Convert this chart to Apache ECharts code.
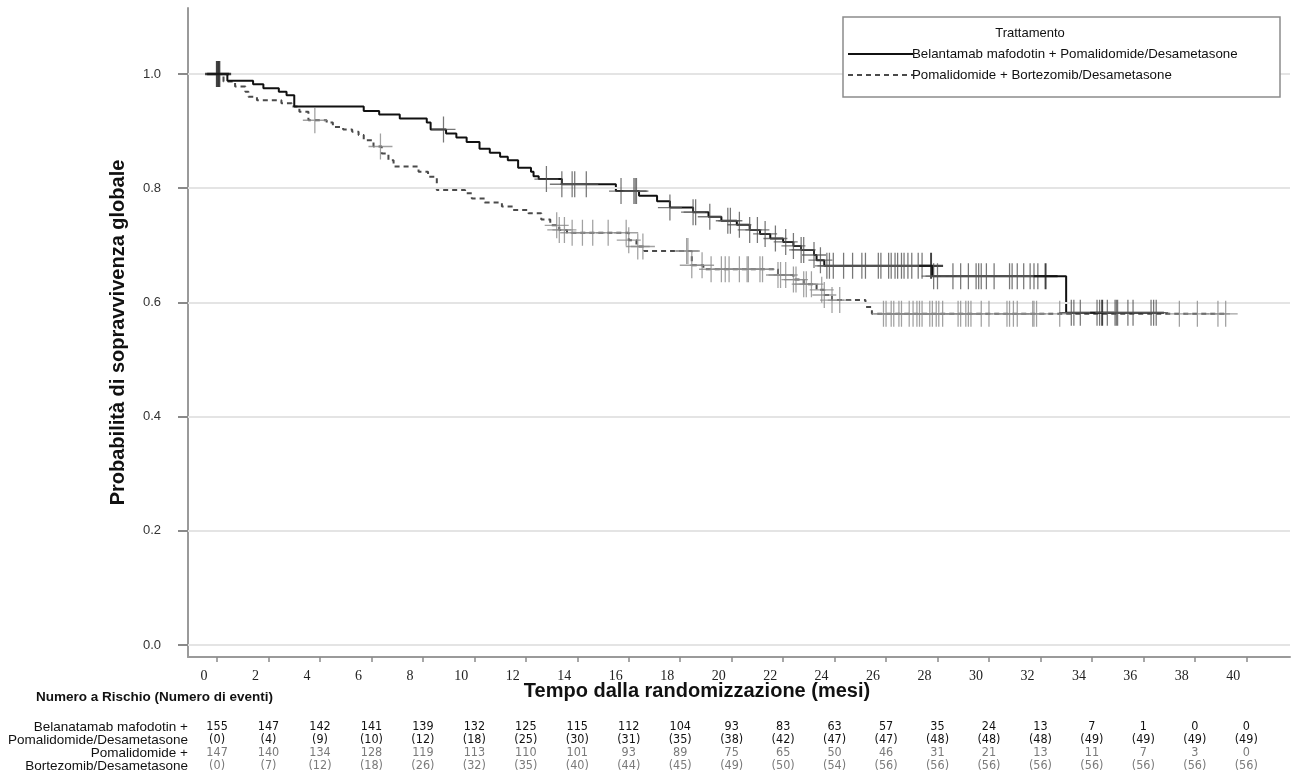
<!DOCTYPE html>
<html>
<head>
<meta charset="utf-8">
<script src="https://cdn.jsdelivr.net/npm/echarts@6/dist/echarts.min.js"></script>
<style>
html,body{margin:0;padding:0;background:#fff;}
#chart{width:1292px;height:778px;}
</style>
</head>
<body>
<div id="chart"></div>
<script>
// ---------- DATA ----------
const TIME_TICKS = [0,2,4,6,8,10,12,14,16,18,20,22,24,26,28,30,32,34,36,38,40];
const Y_TICKS = [0, 0.2, 0.4, 0.6, 0.8, 1.0];

const SERIES_BPD = 'Belantamab mafodotin + Pomalidomide/Desametasone';
const SERIES_PVD = 'Pomalidomide + Bortezomib/Desametasone';

// Kaplan-Meier steps (time in months, survival after the step)
const BPD_T = [0,0.4,1.4,1.8,2.4,2.7,3.0,5.7,6.3,7.1,8.15,8.3,8.9,9.3,9.7,10.2,10.6,11.0,11.3,11.7,12.2,12.3,12.5,13.4,15.5,16.4,17.1,17.6,18.5,19.1,19.6,20.2,20.7,21.1,21.5,22.0,22.4,22.7,23.2,23.3,23.6,27.8,33.0];
const BPD_S = [1.0,0.988,0.982,0.975,0.969,0.963,0.943,0.935,0.929,0.922,0.915,0.903,0.896,0.889,0.881,0.869,0.862,0.855,0.849,0.836,0.829,0.821,0.816,0.807,0.795,0.787,0.777,0.766,0.758,0.750,0.743,0.736,0.727,0.720,0.712,0.706,0.699,0.692,0.683,0.674,0.664,0.646,0.582];
const BPD_END = 36.8;
const BPD_CENSOR = [0.0,0.08,8.8,12.8,13.4,13.8,13.9,14.35,15.7,16.2,16.25,16.3,17.6,18.5,18.6,19.15,19.85,19.95,20.3,20.7,21.0,21.3,21.7,22.1,22.4,22.7,22.8,23.2,23.45,23.7,23.8,23.95,24.35,24.7,25.06,25.2,25.7,25.8,26.1,26.2,26.35,26.45,26.6,26.7,26.85,27.0,27.25,27.4,27.75,27.85,28.0,28.6,28.9,29.2,29.5,29.6,29.7,29.9,30.2,30.8,30.9,31.1,31.35,31.6,31.75,31.9,32.2,33.2,33.3,33.55,34.2,34.3,34.4,34.6,34.9,34.95,35.0,35.4,35.6,36.3,36.4,36.5];

const PVD_T = [0,0.25,0.7,1.1,1.22,1.55,2.5,2.9,3.2,3.55,4.26,4.5,4.9,5.25,5.5,5.7,6.08,6.4,6.66,6.86,7.83,8.2,8.54,9.64,9.9,10.4,11.07,11.5,12.1,12.6,12.95,13.3,13.6,16.0,16.3,16.6,18.45,18.9,21.8,22.4,22.8,23.3,23.6,23.9,25.2,25.45];
const PVD_S = [1.0,0.987,0.978,0.969,0.960,0.954,0.949,0.943,0.934,0.919,0.915,0.907,0.903,0.899,0.893,0.884,0.873,0.861,0.849,0.838,0.829,0.820,0.797,0.791,0.782,0.775,0.768,0.762,0.756,0.745,0.735,0.727,0.722,0.709,0.698,0.690,0.665,0.658,0.648,0.640,0.632,0.622,0.613,0.604,0.592,0.580];
const PVD_END = 39.3;
const PVD_CENSOR = [3.8,6.35,13.2,13.3,13.5,13.8,14.2,14.6,15.2,15.9,16.0,16.35,16.55,18.25,18.3,18.45,18.85,19.2,19.6,19.75,19.9,20.3,20.6,20.65,21.1,21.2,21.8,21.9,22.1,22.4,22.5,22.8,22.9,23.1,23.5,23.6,23.9,24.2,25.9,26.0,26.2,26.3,26.5,26.6,26.9,27.05,27.2,27.3,27.4,27.7,27.8,27.95,28.05,28.2,28.8,28.9,29.1,29.2,29.3,29.7,30.0,30.7,30.8,30.95,31.1,31.7,31.75,31.85,32.75,37.4,38.1,38.9,39.2];

// Number at risk (number of events)
const RISK_BPD = [155,147,142,141,139,132,125,115,112,104,93,83,63,57,35,24,13,7,1,0,0];
const EVENTS_BPD = [0,4,9,10,12,18,25,30,31,35,38,42,47,47,48,48,48,49,49,49,49];
const RISK_PVD = [147,140,134,128,119,113,110,101,93,89,75,65,50,46,31,21,13,11,7,3,0];
const EVENTS_PVD = [0,7,12,18,26,32,35,40,44,45,49,50,54,56,56,56,56,56,56,56,56];

const ROW_LABELS = ['Belanatamab mafodotin +','Pomalidomide/Desametasone','Pomalidomide +','Bortezomib/Desametasone'];

// ---------- BUILD ----------
function stepData(T, S, end){
  const d = T.map((t,i)=>[t,S[i]]);
  d.push([end, S[S.length-1]]);
  return d;
}
function survAt(T, S, t){
  let v = S[0];
  for (let i=0;i<T.length;i++){ if (T[i] <= t) v = S[i]; }
  return v;
}
const SANS = "'Liberation Sans', Arial, sans-serif";
const NARROW = "'Liberation Sans Narrow', 'DejaVu Sans Condensed', 'Liberation Sans', sans-serif";
const XMIN = -1.13, XMAX = 41.7;
const DARK_MARKS = [0.0, 0.08, 27.75, 32.2, 34.4];  // drawn darker (overlapping censors)

function riskAxis(arr, margin, color, paren){
  return {
    type:'value', gridIndex:0, position:'bottom', min:XMIN, max:XMAX,
    axisLine:{show:false}, axisTick:{show:false}, splitLine:{show:false},
    axisLabel:{
      customValues: TIME_TICKS, margin: margin, verticalAlign:'middle',
      color: color, fontSize: 12.5, fontFamily: NARROW,
      formatter: function(v){ const k = Math.round(v/2); const x = arr[k]; return paren ? '('+x+')' : String(x); }
    }
  };
}

const cross = 'path://M10 0L10 20M0 10L20 10';

const bpdCensorData = BPD_CENSOR.map(t=>{
  const item = {value:[t, survAt(BPD_T, BPD_S, t)]};
  if (DARK_MARKS.indexOf(t) >= 0) item.itemStyle = {borderColor:'#111', borderWidth: t < 0.1 ? 2.5 : 2};
  return item;
});

const option = {
  animation:false,
  backgroundColor:'#fff',
  grid:{left:188, top:8, right:2, bottom:121, containLabel:false},
  xAxis:[
    {
      type:'value', min:XMIN, max:XMAX,
      axisLine:{show:true, onZero:false, lineStyle:{color:'#9a9a9a', width:2}},
      axisTick:{show:true, customValues: TIME_TICKS, length:5, lineStyle:{color:'#8a8a8a', width:1.5}},
      axisLabel:{customValues: TIME_TICKS, margin:12, fontSize:14, color:'#222', fontFamily:"'Liberation Serif', 'Times New Roman', serif", padding:[0,26,0,0]},
      splitLine:{show:false}
    },
    riskAxis(RISK_BPD, 70, '#111', false),
    riskAxis(EVENTS_BPD, 83, '#111', true),
    riskAxis(RISK_PVD, 96, '#7a7a7a', false),
    riskAxis(EVENTS_PVD, 109, '#7a7a7a', true)
  ],
  yAxis:{
    type:'value', min:-0.021, max:1.1156,
    name:'Probabilità di sopravvivenza globale', nameLocation:'middle', nameGap:60,
    nameTextStyle:{fontSize:20, fontWeight:'bold', color:'#111', fontFamily:SANS},
    axisLine:{show:true, onZero:false, lineStyle:{color:'#9a9a9a', width:2}},
    axisTick:{show:true, customValues: Y_TICKS, length:10, lineStyle:{color:'#8a8a8a', width:2}},
    axisLabel:{customValues: Y_TICKS, margin:27, fontSize:13, color:'#333', fontFamily:SANS, formatter:v=>v.toFixed(1)},
    splitLine:{show:false}
  },
  series:[
    {
      type:'line', data:[], silent:true, z:1,
      markLine:{silent:true, symbol:['none','none'], label:{show:false}, animation:false,
        lineStyle:{color:'#e4e4e4', width:2, type:'solid'},
        data: Y_TICKS.map(v=>({yAxis:v}))}
    },
    {
      name: SERIES_PVD, type:'line', step:'end', data: stepData(PVD_T, PVD_S, PVD_END),
      showSymbol:false, symbol:'none', z:3,
      lineStyle:{color:'#4a4a4a', width:2, type:[5,4]}
    },
    {
      name: SERIES_BPD, type:'line', step:'end', data: stepData(BPD_T, BPD_S, BPD_END),
      showSymbol:false, symbol:'none', z:4,
      lineStyle:{color:'#111', width:2}
    },
    {
      name: SERIES_PVD + ' censored', type:'scatter', z:5,
      data: PVD_CENSOR.map(t=>[t, survAt(PVD_T, PVD_S, t)]),
      symbol: cross, symbolSize:[24,26],
      itemStyle:{color:'rgba(0,0,0,0)', borderColor:'#8a8a8a', borderWidth:1.3}
    },
    {
      name: SERIES_BPD + ' censored', type:'scatter', z:6,
      data: bpdCensorData,
      symbol: cross, symbolSize:[24,26],
      itemStyle:{color:'rgba(0,0,0,0)', borderColor:'#555', borderWidth:1.3}
    }
  ],
  graphic:[
    {type:'rect', z:100, shape:{x:843, y:17, width:437, height:80}, style:{fill:'#fff', stroke:'#8c8c8c', lineWidth:1.5}},
    {type:'text', z:101, x:1030, y:33, style:{text:'Trattamento', font:"13px 'Liberation Sans'", fill:'#111', align:'center', verticalAlign:'middle'}},
    {type:'line', z:101, shape:{x1:848, y1:54, x2:913, y2:54}, style:{stroke:'#111', lineWidth:2}},
    {type:'text', z:102, x:912, y:54, style:{text:SERIES_BPD, font:"13.3px 'Liberation Sans'", fill:'#111', align:'left', verticalAlign:'middle'}},
    {type:'line', z:101, shape:{x1:848, y1:75, x2:913, y2:75}, style:{stroke:'#4a4a4a', lineWidth:2, lineDash:[5,4]}},
    {type:'text', z:102, x:912, y:75, style:{text:SERIES_PVD, font:"13.3px 'Liberation Sans'", fill:'#111', align:'left', verticalAlign:'middle'}},

    {type:'text', z:50, x:697, y:691, style:{text:'Tempo dalla randomizzazione (mesi)', font:"bold 20px 'Liberation Sans'", fill:'#111', align:'center', verticalAlign:'middle'}},
    {type:'text', z:50, x:36, y:697, style:{text:'Numero a Rischio (Numero di eventi)', font:"bold 13.5px 'Liberation Sans'", fill:'#111', align:'left', verticalAlign:'middle'}},
    {type:'text', z:50, x:188, y:727, style:{text:ROW_LABELS[0], font:"13.5px 'Liberation Sans'", fill:'#111', align:'right', verticalAlign:'middle'}},
    {type:'text', z:50, x:188, y:740, style:{text:ROW_LABELS[1], font:"13.5px 'Liberation Sans'", fill:'#111', align:'right', verticalAlign:'middle'}},
    {type:'text', z:50, x:188, y:753, style:{text:ROW_LABELS[2], font:"13.5px 'Liberation Sans'", fill:'#111', align:'right', verticalAlign:'middle'}},
    {type:'text', z:50, x:188, y:766, style:{text:ROW_LABELS[3], font:"13.5px 'Liberation Sans'", fill:'#111', align:'right', verticalAlign:'middle'}}
  ]
};

const chart = echarts.init(document.getElementById('chart'), null, {renderer:'canvas'});
chart.setOption(option);
</script>
</body>
</html>
